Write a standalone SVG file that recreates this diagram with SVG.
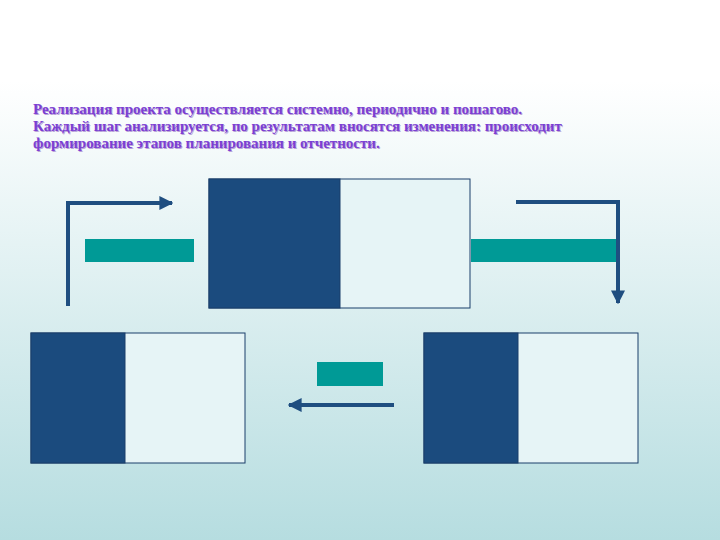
<svg xmlns="http://www.w3.org/2000/svg" width="720" height="540" viewBox="0 0 720 540">
<defs>
<linearGradient id="bg" x1="0" y1="0" x2="0" y2="1"><stop offset="0" stop-color="#ffffff"/><stop offset="0.15" stop-color="#ffffff"/><stop offset="1" stop-color="#b6dde0"/></linearGradient>
<marker id="ah" viewBox="0 0 10 10" refX="9" refY="5" markerWidth="3.5" markerHeight="3.5" orient="auto" markerUnits="strokeWidth"><path d="M0,0 L10,5 L0,10 z" fill="#1f4e80"/></marker>
</defs>
<style>
.t{font-family:"Liberation Serif",serif;font-weight:bold;font-size:15px;fill:#7b3fd3}
.sh{fill:#b9a3d8}
.dk{fill:#1b4b7e;stroke:#1b3e6a;stroke-width:1}
.lt{fill:#e6f4f6;stroke:#1b3e6a;stroke-width:1}
.bar{fill:#009a96}
.ar{fill:none;stroke:#1f4e80;stroke-width:4;marker-end:url(#ah)}
</style>
<rect width="720" height="540" fill="url(#bg)"/>
<g id="text">
<text class="t sh" x="34" y="115">Реализация проекта осуществляется системно, периодично и пошагово.</text>
<text class="t sh" x="34" y="132">Каждый шаг анализируется, по результатам вносятся изменения: происходит</text>
<text class="t sh" x="34" y="149">формирование этапов планирования и отчетности.</text>
<text class="t" x="33" y="114">Реализация проекта осуществляется системно, периодично и пошагово.</text>
<text class="t" x="33" y="131">Каждый шаг анализируется, по результатам вносятся изменения: происходит</text>
<text class="t" x="33" y="148">формирование этапов планирования и отчетности.</text>
</g>
<g id="node-top"><rect class="lt" x="209" y="179" width="261" height="129"/><rect class="dk" x="209" y="179" width="131" height="129"/></g>
<g id="node-left"><rect class="lt" x="31" y="333" width="214" height="130"/><rect class="dk" x="31" y="333" width="94" height="130"/></g>
<g id="node-right"><rect class="lt" x="424" y="333" width="214" height="130"/><rect class="dk" x="424" y="333" width="94" height="130"/></g>
<g id="bars">
<rect class="bar" x="85" y="239" width="109" height="23"/>
<rect class="bar" x="471" y="239" width="145" height="23"/>
<rect class="bar" x="317" y="362" width="66" height="24"/>
</g>
<g id="connectors">
<path class="ar" d="M68,306 V203 H172"/>
<path class="ar" d="M516,202 H618 V303"/>
<path class="ar" d="M394,405 H289"/>
</g>
</svg>
